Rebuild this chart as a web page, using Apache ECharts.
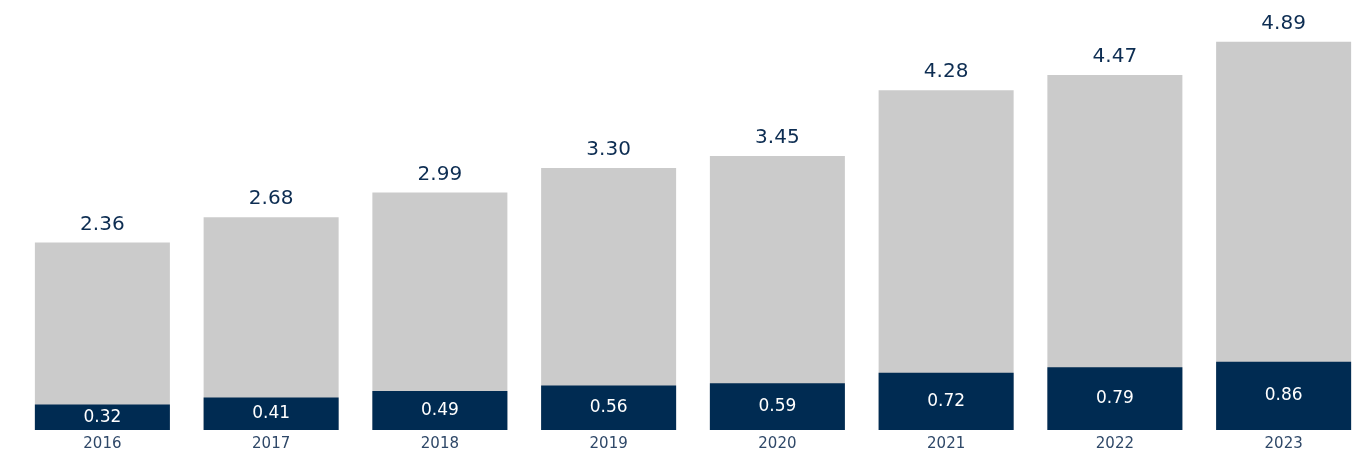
<!DOCTYPE html>
<html><head><meta charset="utf-8">
<script src="https://cdn.jsdelivr.net/npm/echarts@6/dist/echarts.min.js"></script>
<style>html,body{margin:0;padding:0;background:#fff;overflow:hidden}#c{width:1372px;height:461px}</style>
</head><body><div id="c"></div>
<script>
const years = ['2016','2017','2018','2019','2020','2021','2022','2023'];
const totalValues = [2.36, 2.68, 2.99, 3.30, 3.45, 4.28, 4.47, 4.89];
const partValues = [0.32, 0.41, 0.49, 0.56, 0.59, 0.72, 0.79, 0.86];
const chart = echarts.init(document.getElementById('c'));
chart.setOption({
  animation: false,
  grid: {left: 18, width: 1350, top: 33, bottom: 31, containLabel: false},
  xAxis: {type: 'category', data: years,
    axisLine: {show: false}, axisTick: {show: false},
    axisLabel: {color: '#2f4868', fontFamily: 'DejaVu Sans', fontSize: 15, margin: 7}},
  yAxis: {type: 'value', min: 0, max: 5, show: false, splitLine: {show: false}},
  series: [
    {type: 'bar', data: totalValues, barWidth: 135, barGap: '-100%',
     itemStyle: {color: '#cbcbcb'},
     label: {show: true, position: 'top', distance: 8, color: '#0d2d52', fontFamily: 'DejaVu Sans', fontSize: 20,
       formatter: p => p.value.toFixed(2)}},
    {type: 'bar', data: partValues, barWidth: 135, barGap: '-100%',
     itemStyle: {color: '#002b52'},
     label: {show: true, position: 'inside', color: '#ffffff', fontFamily: 'DejaVu Sans', fontSize: 17,
       formatter: p => p.value.toFixed(2)}}
  ]
});
</script></body></html>
